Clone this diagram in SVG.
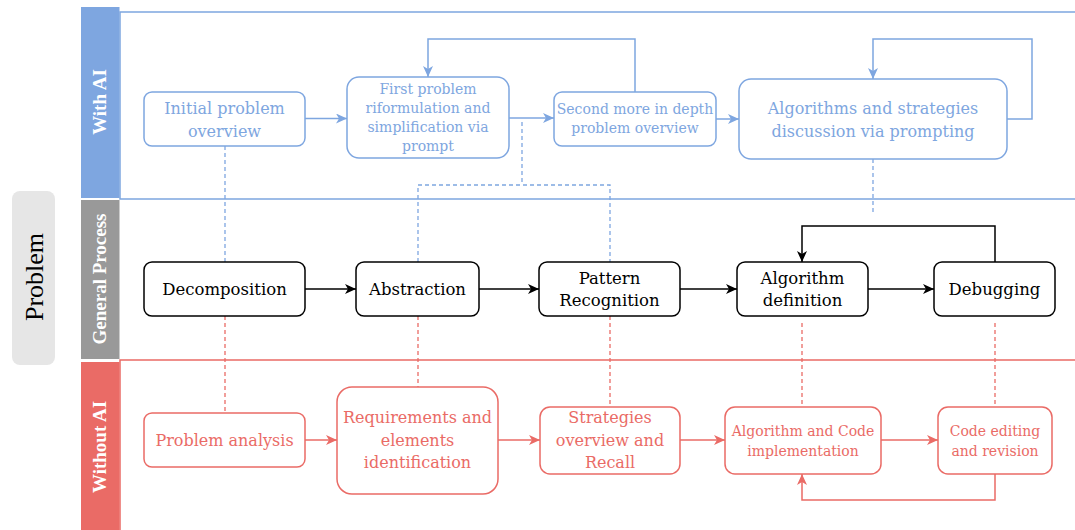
<svg xmlns="http://www.w3.org/2000/svg" width="1075" height="530" viewBox="0 0 1075 530">
<style>
.t{font-family:"DejaVu Serif","Liberation Serif",serif;text-anchor:middle}
.b{fill:#7ea6e0}
.k{fill:#000000}
.r{fill:#ea6b66}
.s16{font-size:16px}
.s14{font-size:14px}
.s165{font-size:16.5px}
.hd{font-family:"Liberation Serif",serif;font-weight:bold;font-size:19px;fill:#ffffff;text-anchor:middle}
.nb{fill:#ffffff;stroke:#7ea6e0;stroke-width:1.5}
.nk{fill:#ffffff;stroke:#000000;stroke-width:1.5}
.nr{fill:#ffffff;stroke:#ea6b66;stroke-width:1.5}
.cb{fill:none;stroke:#7ea6e0;stroke-width:1.5}
.ck{fill:none;stroke:#000000;stroke-width:1.5}
.cr{fill:none;stroke:#ea6b66;stroke-width:1.5}
.db{fill:none;stroke:#7ea6e0;stroke-width:1.3;stroke-dasharray:4 3}
.dr{fill:none;stroke:#ea6b66;stroke-width:1.3;stroke-dasharray:4 3}
</style>
<defs>
<marker id="ab" viewBox="0 0 11 10" markerWidth="11" markerHeight="10" refX="11" refY="5" orient="auto" markerUnits="userSpaceOnUse"><path d="M0,0 L11,5 L0,10 L3,5 Z" fill="#7ea6e0"/></marker>
<marker id="ak" viewBox="0 0 11 10" markerWidth="11" markerHeight="10" refX="11" refY="5" orient="auto" markerUnits="userSpaceOnUse"><path d="M0,0 L11,5 L0,10 L3,5 Z" fill="#000000"/></marker>
<marker id="ar" viewBox="0 0 11 10" markerWidth="11" markerHeight="10" refX="11" refY="5" orient="auto" markerUnits="userSpaceOnUse"><path d="M0,0 L11,5 L0,10 L3,5 Z" fill="#ea6b66"/></marker>
</defs>
<rect width="1075" height="530" fill="#ffffff"/>

<g id="problem">
<rect x="12" y="191" width="43" height="174" rx="8" fill="#e6e6e6"/>
<text transform="translate(43,277) rotate(-90)" font-family="Liberation Serif, serif" font-size="26" text-anchor="middle" fill="#000000">Problem</text>
</g>

<g id="lane-with-ai">
<rect x="81" y="7" width="38.5" height="191" fill="#7ea6e0"/>
<path d="M1076,12 L120,12 L120,199 L1076,199" fill="none" stroke="#7ea6e0" stroke-width="1.5"/>
<text class="hd" transform="translate(106,102) rotate(-90)">With AI</text>
</g>
<g id="lane-general">
<rect x="81" y="200" width="38.5" height="159" fill="#999999"/>
<text class="hd" transform="translate(106,279) rotate(-90)">General Process</text>
</g>
<g id="lane-without-ai">
<rect x="81" y="362" width="38.5" height="170" fill="#ea6b66"/>
<path d="M1076,360 L120,360 L120,531" fill="none" stroke="#ea6b66" stroke-width="1.5"/>
<text class="hd" transform="translate(106,447) rotate(-90)">Without AI</text>
</g>

<g id="connectors">
<path class="cb" d="M305,118.5 L347,118.5" marker-end="url(#ab)"/>
<path class="cb" d="M509,118 L554,118" marker-end="url(#ab)"/>
<path class="cb" d="M716,119 L739,119" marker-end="url(#ab)"/>
<path class="cb" d="M635,92 L635,39 L428,39 L428,77" marker-end="url(#ab)"/>
<path class="cb" d="M1007,119 L1032,119 L1032,39 L873,39 L873,79" marker-end="url(#ab)"/>
<path class="db" d="M225,146 L225,262"/>
<path class="db" d="M522,122 L522,185 M418,262 L418,185 L610,185 L610,262"/>
<path class="db" d="M873,159 L873,212"/>
<path class="ck" d="M305,289 L356,289" marker-end="url(#ak)"/>
<path class="ck" d="M479,289 L539,289" marker-end="url(#ak)"/>
<path class="ck" d="M680,289 L737,289" marker-end="url(#ak)"/>
<path class="ck" d="M868,289 L934,289" marker-end="url(#ak)"/>
<path class="ck" d="M995,262 L995,226 L802,226 L802,262" marker-end="url(#ak)"/>
<path class="dr" d="M225,316 L225,413"/>
<path class="dr" d="M418,316 L418,387"/>
<path class="dr" d="M610,316 L610,407"/>
<path class="dr" d="M802,323 L802,407"/>
<path class="dr" d="M995,323 L995,407"/>
<path class="cr" d="M305,440 L337,440" marker-end="url(#ar)"/>
<path class="cr" d="M498,440 L540,440" marker-end="url(#ar)"/>
<path class="cr" d="M680,440 L725,440" marker-end="url(#ar)"/>
<path class="cr" d="M881,440 L938,440" marker-end="url(#ar)"/>
<path class="cr" d="M995,474 L995,500 L802,500 L802,474" marker-end="url(#ar)"/>
</g>

<g id="n-initial">
<rect class="nb" x="144" y="92" width="161" height="54" rx="8"/>
<text class="t b s16" x="224.5" y="114">Initial problem</text>
<text class="t b s16" x="224.5" y="137">overview</text>
</g>
<g id="n-first">
<rect class="nb" x="347" y="77" width="162" height="81" rx="12"/>
<text class="t b s14" x="428" y="94">First problem</text>
<text class="t b s14" x="428" y="113">riformulation and</text>
<text class="t b s14" x="428" y="132">simplification via</text>
<text class="t b s14" x="428" y="151">prompt</text>
</g>
<g id="n-second">
<rect class="nb" x="554" y="92" width="162" height="54" rx="8"/>
<text class="t b s14" x="635" y="114">Second more in depth</text>
<text class="t b s14" x="635" y="133">problem overview</text>
</g>
<g id="n-algostrat">
<rect class="nb" x="739" y="79" width="268" height="80" rx="12"/>
<text class="t b s16" x="873" y="114">Algorithms and strategies</text>
<text class="t b s16" x="873" y="137">discussion via prompting</text>
</g>

<g id="n-decomposition">
<rect class="nk" x="144" y="262" width="161" height="54" rx="8"/>
<text class="t k s165" x="224.5" y="295">Decomposition</text>
</g>
<g id="n-abstraction">
<rect class="nk" x="356" y="262" width="123" height="54" rx="8"/>
<text class="t k s165" x="417.5" y="295">Abstraction</text>
</g>
<g id="n-pattern">
<rect class="nk" x="539" y="262" width="141" height="54" rx="8"/>
<text class="t k s165" x="609.5" y="284">Pattern</text>
<text class="t k s165" x="609.5" y="306">Recognition</text>
</g>
<g id="n-algodef">
<rect class="nk" x="737" y="262" width="131" height="54" rx="8"/>
<text class="t k s165" x="802.5" y="284">Algorithm</text>
<text class="t k s165" x="802.5" y="306">definition</text>
</g>
<g id="n-debugging">
<rect class="nk" x="934" y="262" width="121" height="54" rx="8"/>
<text class="t k s165" x="994.5" y="295">Debugging</text>
</g>

<g id="n-analysis">
<rect class="nr" x="144" y="413" width="161" height="54" rx="8"/>
<text class="t r s16" x="224.5" y="446">Problem analysis</text>
</g>
<g id="n-requirements">
<rect class="nr" x="337" y="387" width="161" height="107" rx="15"/>
<text class="t r s16" x="417.5" y="423">Requirements and</text>
<text class="t r s16" x="417.5" y="446">elements</text>
<text class="t r s16" x="417.5" y="468">identification</text>
</g>
<g id="n-strategies">
<rect class="nr" x="540" y="407" width="140" height="67" rx="10"/>
<text class="t r s16" x="610" y="423">Strategies</text>
<text class="t r s16" x="610" y="446">overview and</text>
<text class="t r s16" x="610" y="468">Recall</text>
</g>
<g id="n-implementation">
<rect class="nr" x="725" y="407" width="156" height="67" rx="10"/>
<text class="t r s14" x="803" y="436">Algorithm and Code</text>
<text class="t r s14" x="803" y="456">implementation</text>
</g>
<g id="n-editing">
<rect class="nr" x="938" y="407" width="114" height="67" rx="10"/>
<text class="t r s14" x="995" y="436">Code editing</text>
<text class="t r s14" x="995" y="456">and revision</text>
</g>
</svg>
